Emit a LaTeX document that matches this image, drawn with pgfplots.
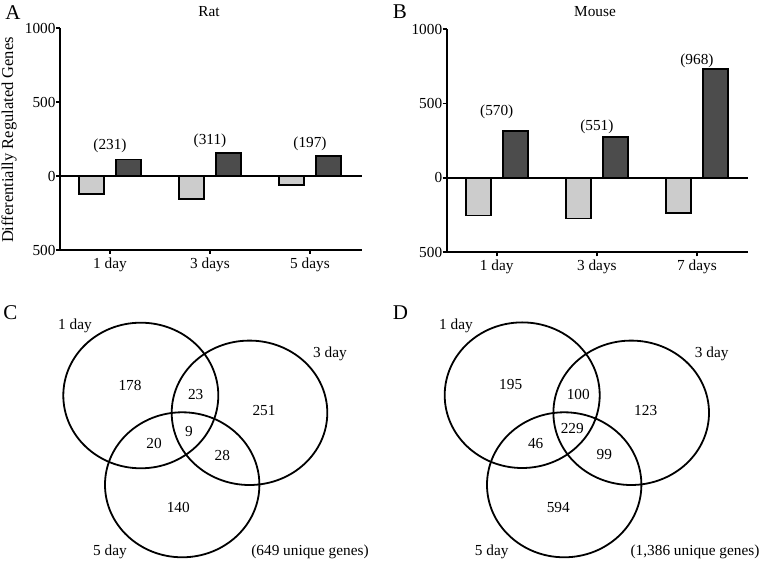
\documentclass[border=0pt]{standalone}
\usepackage{pgfplots}
\pgfplotsset{compat=1.18}
\usepackage{fontspec}
\setmainfont{Liberation Serif}
\definecolor{upbar}{gray}{0.30}
\definecolor{downbar}{gray}{0.80}
\newcommand\fs{\fontsize{15.3}{18}\selectfont}
\tikzset{ring/.style={line width=1.8pt}}

\pgfplotsset{
  barpanel/.style={
    scale only axis, anchor=south west,
    xmin=-0.5, ymin=-500, ymax=1000,
    axis x line=bottom, axis y line=left,
    axis line style={-, line width=1.8pt},
    xtick={0,1,2}, ytick={-500,0,500,1000}, yticklabels={500,0,500,1000},
    tick align=outside, major tick length=4pt,
    tick style={black, line width=1.6pt},
    tick label style={font=\fs},
    yticklabel style={xshift=3pt},
    /pgf/number format/assume math mode=true,
    clip=false,
  },
  down/.style={ybar, bar width=25pt, bar shift=-18.5pt, fill=downbar, draw=black, line width=1.6pt},
  up/.style={ybar, bar width=25pt, bar shift=18.5pt, fill=upbar, draw=black, line width=1.6pt},
  totals/.style={draw=none, nodes near coords, point meta=explicit symbolic,
    every node near coord/.append style={anchor=center, font=\fs, black}},
  vennpanel/.style={hide axis, scale only axis, anchor=south west,
    height=281pt, ymin=280, ymax=561, y dir=reverse, clip=false},
  venntext/.style={draw=none, nodes near coords, point meta=explicit symbolic,
    every node near coord/.append style={anchor=center, font=\fs, black}},
}

\begin{document}
\begin{tikzpicture}
\path[use as bounding box] (0,0) rectangle (761pt,561pt);

% A: rat
\begin{axis}[barpanel, at={(60pt,311pt)}, width=302pt, height=222pt, xmax=2.52,
  xticklabels={1 day, 3 days, 5 days}]
\addplot[black, line width=1.8pt, forget plot] coordinates {(-0.5,0) (2.52,0)};
\addplot[down] coordinates {(0,-120) (1,-155) (2,-60)};
\addplot[up] coordinates {(0,111) (1,156) (2,137)};
\addplot[totals] table[meta=t, row sep=\\] {x y t\\ 0 203 (231)\\ 1 236 (311)\\ 2 216 (197)\\};
\end{axis}

% B: mouse
\begin{axis}[barpanel, at={(446.7pt,308.7pt)}, width=301.3pt, height=223pt, xmax=2.51,
  xticklabels={1 day, 3 days, 7 days}]
\addplot[black, line width=1.8pt, forget plot] coordinates {(-0.5,0) (2.51,0)};
\addplot[down] coordinates {(0,-253) (1,-274) (2,-235)};
\addplot[up] coordinates {(0,317) (1,277) (2,733)};
\addplot[totals] table[meta=t, row sep=\\] {x y t\\ 0 447 (570)\\ 1 346 (551)\\ 2 789 (968)\\};
\end{axis}

% C: rat venn
\begin{axis}[vennpanel, at={(0pt,0pt)}, width=380pt, xmin=0, xmax=380]
\draw[ring] (axis cs:140.8,395.5) ellipse [x radius=77.5pt, y radius=72.8pt];
\draw[ring] (axis cs:249.5,412.8) ellipse [x radius=77.8pt, y radius=72.2pt];
\draw[ring] (axis cs:182.2,484.8) ellipse [x radius=77.2pt, y radius=72.5pt];
\addplot[venntext] table[col sep=semicolon, row sep=\\, meta=t] {
x;y;t\\
75;326;1 day\\
330;354;3 day\\
130;385.3;178\\
195.7;395;23\\
264;410.7;251\\
189;431.7;9\\
154;443.3;20\\
222.3;455;28\\
178.3;507.7;140\\
110;551.7;5 day\\
310;551.7;(649 unique genes)\\
};
\end{axis}

% D: mouse venn
\begin{axis}[vennpanel, at={(380pt,0pt)}, width=381pt, xmin=380, xmax=761]
\draw[ring] (axis cs:522.2,395.2) ellipse [x radius=77.5pt, y radius=72.8pt];
\draw[ring] (axis cs:631.2,412.8) ellipse [x radius=77.8pt, y radius=72.2pt];
\draw[ring] (axis cs:564.2,484.8) ellipse [x radius=77.2pt, y radius=72.5pt];
\addplot[venntext] table[col sep=semicolon, row sep=\\, meta=t] {
x;y;t\\
456;326;1 day\\
711.7;354;3 day\\
510.7;385;195\\
578.3;394.3;100\\
645.7;410.7;123\\
572.3;429;229\\
535.7;443.3;46\\
604.3;455;99\\
558.3;507.7;594\\
491.7;551.7;5 day\\
695;551.7;(1,386 unique genes)\\
};
\end{axis}

% panel letters, titles, y label
\node[font=\fontsize{21}{24}\selectfont] at (13pt,548.5pt) {A};
\node[font=\fontsize{21}{24}\selectfont] at (400pt,549.5pt) {B};
\node[font=\fontsize{21}{24}\selectfont] at (10.3pt,248pt) {C};
\node[font=\fontsize{21}{24}\selectfont] at (400.5pt,248pt) {D};
\node[font=\fs] at (209pt,549pt) {Rat};
\node[font=\fs] at (595pt,549pt) {Mouse};
\node[font=\fontsize{16.5}{19}\selectfont, rotate=90] at (9pt,421pt) {Differentially Regulated Genes};
\end{tikzpicture}
\end{document}
